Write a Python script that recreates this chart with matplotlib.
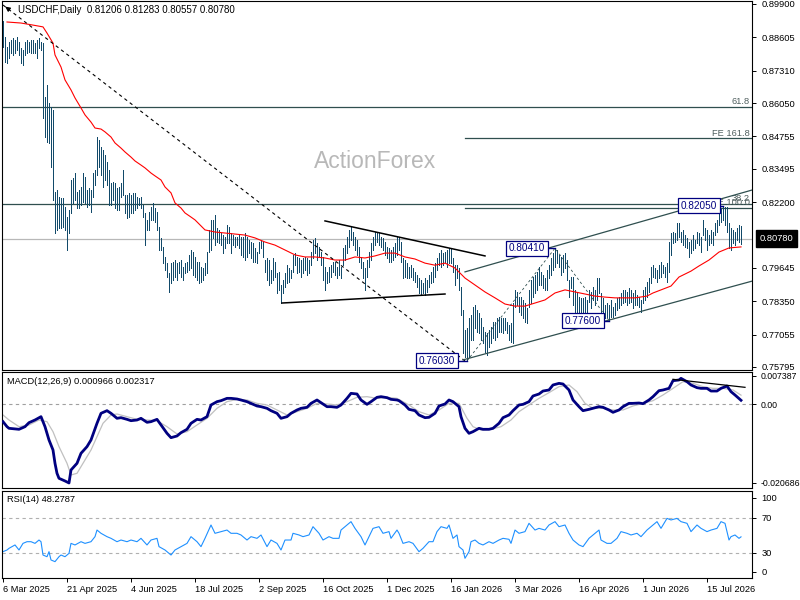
import matplotlib
matplotlib.use('Agg')
import matplotlib.pyplot as plt
import matplotlib.transforms as mtransforms
import numpy as np

plt.rcParams['font.family'] = ['Liberation Sans', 'DejaVu Sans']

# ---------------- data ----------------
symbol = 'USDCHF,Daily'
last_ohlc = [0.81206, 0.81283, 0.80557, 0.80780]

highs = [
 0.8924,0.8862,0.8823,0.8842,0.8850,0.8858,0.8850,0.8862,0.8842,0.8819,
 0.8811,0.8842,0.8850,0.8842,0.8850,0.8850,0.8838,0.8850,0.8858,0.8842,
 0.8838,0.8629,0.8675,0.8605,0.8590,0.8578,0.8259,0.8267,0.8240,0.8236,
 0.8236,0.8201,0.8162,0.8189,0.8306,0.8314,0.8333,0.8259,0.8267,0.8279,
 0.8333,0.8318,0.8267,0.8275,0.8267,0.8333,0.8345,0.8473,0.8461,0.8434,
 0.8423,0.8403,0.8376,0.8345,0.8294,0.8298,0.8294,0.8275,0.8279,0.8294,
 0.8345,0.8248,0.8248,0.8255,0.8248,0.8255,0.8255,0.8240,0.8236,0.8240,
 0.8209,0.8178,0.8151,0.8182,0.8201,0.8217,0.8197,0.8182,0.8123,0.8081,
 0.8046,0.8007,0.7983,0.7944,0.7983,0.7987,0.7995,0.7983,0.7987,0.7995,
 0.7968,0.7983,0.7987,0.8015,0.8034,0.8026,0.8007,0.7987,0.7987,0.7968,
 0.7964,0.7983,0.8026,0.8112,0.8151,0.8151,0.8170,0.8120,0.8112,0.8100,
 0.8092,0.8085,0.8131,0.8123,0.8100,0.8092,0.8085,0.8085,0.8092,0.8085,
 0.8085,0.8100,0.8085,0.8073,0.8065,0.8061,0.8042,0.8026,0.8065,0.8073,
 0.8065,0.7995,0.8003,0.7995,0.7956,0.8003,0.7987,0.7944,0.7948,0.7898,
 0.7917,0.7944,0.7975,0.7964,0.7956,0.8015,0.8022,0.8007,0.8003,0.7995,
 0.8003,0.8007,0.8003,0.7995,0.8026,0.8073,0.8081,0.8061,0.8046,0.8026,
 0.8007,0.7968,0.7948,0.7968,0.7975,0.7987,0.7987,0.7968,0.7995,0.7968,
 0.8042,0.8053,0.8085,0.8112,0.8123,0.8104,0.8085,0.8073,0.8046,0.8007,
 0.7987,0.7964,0.7995,0.8026,0.8061,0.8085,0.8104,0.8104,0.8100,0.8085,
 0.8081,0.8065,0.8046,0.8042,0.8034,0.8046,0.8061,0.8085,0.8085,0.8065,
 0.8003,0.7995,0.7983,0.7968,0.7975,0.7964,0.7948,0.7937,0.7925,0.7917,
 0.7906,0.7925,0.7917,0.7937,0.7948,0.7968,0.7983,0.8003,0.8022,0.8034,
 0.8022,0.8026,0.8034,0.8042,0.8042,0.8003,0.7975,0.7975,0.7964,0.7890,
 0.7801,0.7723,0.7731,0.7770,0.7781,0.7812,0.7820,0.7801,0.7789,0.7770,
 0.7735,0.7715,0.7711,0.7723,0.7735,0.7754,0.7754,0.7770,0.7774,0.7770,
 0.7770,0.7770,0.7754,0.7743,0.7750,0.7828,0.7879,0.7871,0.7851,0.7851,
 0.7840,0.7828,0.7809,0.7879,0.7917,0.7929,0.7937,0.7948,0.7968,0.7948,
 0.7937,0.7925,0.7956,0.7975,0.8003,0.8022,0.8041,0.8034,0.8015,0.8007,
 0.8015,0.8022,0.7995,0.7917,0.7929,0.7929,0.7879,0.7871,0.7851,0.7848,
 0.7848,0.7851,0.7840,0.7879,0.7871,0.7890,0.7879,0.7925,0.7925,0.7867,
 0.7848,0.7820,0.7828,0.7820,0.7840,0.7812,0.7828,0.7848,0.7851,0.7867,
 0.7879,0.7879,0.7871,0.7886,0.7879,0.7867,0.7879,0.7859,0.7851,0.7840,
 0.7879,0.7890,0.7910,0.7925,0.7968,0.7975,0.7964,0.7956,0.7975,0.7987,
 0.7975,0.7968,0.7983,0.8065,0.8100,0.8104,0.8100,0.8139,0.8139,0.8104,
 0.8112,0.8092,0.8081,0.8065,0.8073,0.8092,0.8073,0.8104,0.8100,0.8085,
 0.8151,0.8120,0.8112,0.8092,0.8112,0.8104,0.8139,0.8151,0.8182,0.8197,
 0.8205,0.8200,0.8200,0.8139,0.8120,0.8112,0.8104,0.8120,0.8131,0.81283]

lows = [
 0.8823,0.8764,0.8761,0.8780,0.8800,0.8792,0.8800,0.8811,0.8792,0.8761,
 0.8753,0.8792,0.8800,0.8803,0.8800,0.8800,0.8800,0.8780,0.8819,0.8811,
 0.8547,0.8473,0.8454,0.8450,0.8357,0.8228,0.8100,0.8112,0.8119,0.8119,
 0.8123,0.8112,0.8034,0.8100,0.8178,0.8217,0.8228,0.8197,0.8197,0.8209,
 0.8220,0.8217,0.8201,0.8209,0.8182,0.8240,0.8286,0.8325,0.8357,0.8325,
 0.8279,0.8306,0.8286,0.8209,0.8209,0.8228,0.8197,0.8189,0.8189,0.8240,
 0.8248,0.8178,0.8158,0.8162,0.8178,0.8178,0.8189,0.8197,0.8209,0.8197,
 0.8162,0.8053,0.8112,0.8112,0.8151,0.8151,0.8143,0.8112,0.8034,0.8034,
 0.7983,0.7956,0.7929,0.7871,0.7906,0.7917,0.7929,0.7917,0.7944,0.7929,
 0.7917,0.7944,0.7948,0.7956,0.7964,0.7937,0.7929,0.7917,0.7906,0.7910,
 0.7917,0.7937,0.7944,0.8026,0.8034,0.8081,0.8053,0.8065,0.8061,0.8053,
 0.8022,0.8042,0.8061,0.8061,0.8022,0.8053,0.8046,0.8053,0.8042,0.8015,
 0.8007,0.7995,0.8007,0.8022,0.8003,0.7987,0.7987,0.7983,0.8022,0.8042,
 0.8007,0.7948,0.7917,0.7898,0.7906,0.7917,0.7929,0.7867,0.7879,0.7828,
 0.7867,0.7890,0.7906,0.7910,0.7925,0.7948,0.7975,0.7944,0.7948,0.7929,
 0.7944,0.7956,0.7937,0.7944,0.7975,0.8003,0.8022,0.7995,0.8007,0.7975,
 0.7917,0.7879,0.7906,0.7910,0.7929,0.7948,0.7937,0.7925,0.7937,0.7925,
 0.7975,0.7995,0.8022,0.8046,0.8073,0.8053,0.8034,0.8015,0.7987,0.7964,
 0.7925,0.7879,0.7929,0.7968,0.7995,0.8034,0.8053,0.8065,0.8053,0.8046,
 0.8034,0.8015,0.8003,0.7987,0.7987,0.7995,0.8007,0.8015,0.8034,0.7987,
 0.7925,0.7929,0.7925,0.7925,0.7929,0.7917,0.7910,0.7890,0.7867,0.7859,
 0.7867,0.7859,0.7871,0.7890,0.7906,0.7910,0.7929,0.7956,0.7975,0.7968,
 0.7975,0.7987,0.7968,0.7983,0.7983,0.7948,0.7898,0.7925,0.7879,0.7781,
 0.7634,0.7618,0.7603,0.7618,0.7684,0.7684,0.7731,0.7715,0.7711,0.7684,
 0.7673,0.7638,0.7626,0.7657,0.7673,0.7692,0.7684,0.7696,0.7715,0.7715,
 0.7711,0.7723,0.7711,0.7684,0.7677,0.7673,0.7812,0.7820,0.7793,0.7781,
 0.7770,0.7754,0.7750,0.7812,0.7828,0.7851,0.7867,0.7879,0.7898,0.7898,
 0.7886,0.7879,0.7879,0.7925,0.7937,0.7956,0.7968,0.7983,0.7968,0.7937,
 0.7948,0.7964,0.7917,0.7851,0.7886,0.7820,0.7781,0.7770,0.7781,0.7774,
 0.7789,0.7774,0.7781,0.7832,0.7809,0.7840,0.7820,0.7840,0.7867,0.7793,
 0.7789,0.7770,0.7774,0.7760,0.7774,0.7774,0.7781,0.7801,0.7809,0.7820,
 0.7828,0.7832,0.7820,0.7828,0.7832,0.7809,0.7820,0.7820,0.7812,0.7793,
 0.7828,0.7840,0.7851,0.7871,0.7906,0.7929,0.7925,0.7910,0.7925,0.7929,
 0.7944,0.7929,0.7910,0.7948,0.8015,0.8061,0.8065,0.8073,0.8085,0.8065,
 0.8053,0.8046,0.8042,0.8007,0.8022,0.8034,0.8042,0.8061,0.8053,0.8026,
 0.8092,0.8073,0.8034,0.8053,0.8061,0.8053,0.8092,0.8104,0.8131,0.8143,
 0.8151,0.8131,0.8104,0.8042,0.8034,0.8061,0.8053,0.8073,0.8065,0.80557]

# moving average (red)
ma_bar = [2,9,15,20,22,25,26,29,31,34,36,39,41,44,46,49,51,54,56,59,61,64,66,69,71,74,76,79,81,84,
          86,89,91,94,96,101,106,111,116,121,126,131,136,141,146,151,156,161,166,171,176,181,186,191,
          196,201,206,211,216,221,226,231,236,241,246,251,256,261,266,271,276,281,286,291,296,301,306,
          311,316,322,325,329,334,338,344,348,353,358,363,369]
ma_val = [0.8920,0.8916,0.8908,0.8901,0.8877,0.8838,0.8792,0.8745,0.8695,0.8656,0.8625,0.8586,0.8559,
          0.8531,0.8508,0.8504,0.8493,0.8473,0.8450,0.8430,0.8415,0.8395,0.8380,0.8364,0.8353,0.8333,
          0.8322,0.8306,0.8279,0.8256,0.8217,0.8197,0.8178,0.8162,0.8151,0.8112,0.8104,0.8100,0.8096,
          0.8092,0.8081,0.8065,0.8053,0.8034,0.8015,0.8007,0.8007,0.8003,0.7995,0.7995,0.8007,0.8003,
          0.8011,0.8022,0.8022,0.8007,0.7999,0.7983,0.7975,0.7983,0.7964,0.7925,0.7898,0.7871,0.7848,
          0.7824,0.7816,0.7816,0.7828,0.7840,0.7867,0.7879,0.7871,0.7863,0.7855,0.7851,0.7848,0.7848,
          0.7848,0.7855,0.7867,0.7879,0.7894,0.7929,0.7952,0.7972,0.7995,0.8026,0.8042,0.8046]

macd_bar = [0,2,3,8,11,13,16,19,21,23,25,26,27,28,31,33,34,37,39,42,44,47,49,52,54,57,59,62,64,67,69,
            72,74,77,79,82,84,87,89,92,94,97,99,102,104,107,109,112,114,117,119,122,124,127,129,132,134,
            137,139,142,144,147,149,152,154,157,159,162,164,167,169,172,174,177,179,182,184,187,189,192,
            194,197,198,201,203,206,208,211,213,216,218,221,223,225,228,229,231,233,235,238,240,243,245,
            248,250,253,255,258,260,263,265,268,270,273,275,278,280,283,285,288,290,293,295,298,300,303,
            305,308,310,313,315,318,320,323,325,328,330,333,335,338,339,342,344,347,349,352,354,357,359,
            362,364,366,369]
macd_val = [-0.00463,-0.00594,-0.00637,-0.00663,-0.00594,-0.00489,-0.00419,-0.00332,-0.00594,-0.00943,
            -0.01205,-0.01554,-0.01816,-0.01947,-0.02017,-0.02069,-0.01729,-0.01554,-0.01292,-0.01117,
            -0.00943,-0.00506,-0.00244,-0.00175,-0.00244,-0.00375,-0.00358,-0.00402,-0.00437,-0.00419,
            -0.00375,-0.00480,-0.00463,-0.00402,-0.00550,-0.00768,-0.00882,-0.00838,-0.00751,-0.00663,
            -0.00506,-0.00402,-0.00419,-0.00332,-0.00026,0.00061,0.00087,0.00148,0.00148,0.00131,
            0.00105,0.00061,0.00017,-0.00052,-0.00070,-0.00113,-0.00175,-0.00244,-0.00375,-0.00332,
            -0.00244,-0.00157,-0.00113,-0.00087,0.00017,0.00105,0.00035,-0.00070,-0.00070,-0.00087,
            -0.00026,0.00148,0.00279,0.00262,0.00105,-0.00009,0.00061,0.00175,0.00192,0.00166,
            0.00122,0.00105,0.00087,-0.00026,-0.00140,-0.00175,-0.00288,-0.00358,-0.00349,-0.00244,
            -0.00052,0.00000,0.00105,0.00061,-0.00070,-0.00332,-0.00637,-0.00768,-0.00725,-0.00637,
            -0.00663,-0.00663,-0.00637,-0.00506,-0.00358,-0.00288,-0.00175,-0.00026,-0.00009,0.00061,
            0.00210,0.00262,0.00340,0.00367,0.00498,0.00541,0.00524,0.00367,0.00105,-0.00070,
            -0.00175,-0.00140,-0.00113,-0.00070,-0.00087,-0.00157,-0.00218,-0.00157,-0.00070,0.00017,
            0.00017,0.00026,0.00009,0.00105,0.00192,0.00349,0.00367,0.00410,0.00611,0.00629,
            0.00672,0.00585,0.00498,0.00428,0.00410,0.00410,0.00340,0.00340,0.00410,0.00471,
            0.00323,0.00236,0.00097]

sig_bar = [0,3,8,13,18,22,25,28,32,34,37,40,44,47,50,54,57,62,67,72,77,82,87,92,97,102,107,112,117,
           122,127,132,137,142,147,152,157,162,167,172,177,182,187,192,197,203,208,213,218,223,228,232,
           235,239,244,249,254,258,263,268,273,278,283,287,291,295,300,305,310,315,320,325,330,335,340,
           345,350,355,360,365,369]
sig_val = [-0.00288,-0.00419,-0.00594,-0.00550,-0.00419,-0.00463,-0.00725,-0.01117,-0.01554,-0.01859,
           -0.01816,-0.01554,-0.01205,-0.00856,-0.00506,-0.00288,-0.00262,-0.00332,-0.00402,-0.00419,
           -0.00437,-0.00594,-0.00786,-0.00725,-0.00550,-0.00375,-0.00113,0.00061,0.00122,0.00105,
           0.00017,-0.00026,-0.00157,-0.00288,-0.00201,-0.00113,0.00017,0.00000,-0.00026,0.00061,
           0.00175,0.00192,0.00148,0.00175,0.00148,-0.00026,-0.00201,-0.00288,-0.00157,0.00017,
           0.00017,-0.00375,-0.00594,-0.00681,-0.00663,-0.00594,-0.00419,-0.00201,-0.00026,0.00148,
           0.00297,0.00454,0.00498,0.00323,0.00017,-0.00113,-0.00113,-0.00157,-0.00157,-0.00052,
           0.00017,0.00087,0.00236,0.00410,0.00585,0.00541,0.00454,0.00410,0.00410,0.00367,0.00232]

rsi_bar = [0,2,3,6,8,10,12,14,16,18,19,20,22,23,24,26,28,29,31,33,34,36,39,41,44,46,47,49,52,54,57,59,
           62,64,67,69,72,74,77,78,81,84,86,89,92,94,97,99,101,104,106,109,112,114,117,119,122,124,127,
           129,132,134,137,139,141,144,145,148,150,153,155,158,160,163,165,168,169,172,174,176,179,181,
           183,185,188,190,193,194,197,198,200,203,205,208,210,213,215,217,219,222,223,225,227,228,230,
           231,233,234,236,238,240,243,245,248,250,253,254,256,258,261,263,266,268,271,273,276,278,281,
           283,285,288,290,293,295,298,299,302,304,307,309,312,314,317,319,322,324,327,329,332,334,337,
           339,342,344,347,349,352,354,357,359,361,363,364,366,368,369]
rsi_val = [31.5,33.4,35.3,39.1,33.4,40.9,42.8,42.8,40.9,44.7,42.8,27.7,25.8,31.5,22.1,20.2,25.8,27.7,
           25.8,29.6,40.9,39.1,42.8,40.9,42.8,48.5,56.0,52.3,48.5,46.6,42.8,44.7,42.8,44.7,42.8,46.6,
           39.1,44.7,46.6,37.2,33.4,27.7,33.4,37.2,40.9,48.5,42.8,37.2,46.6,61.7,52.3,54.2,56.0,52.3,
           52.3,50.4,44.7,48.5,46.6,50.4,37.2,44.7,40.9,33.4,44.7,44.7,52.3,50.4,48.5,50.4,59.8,52.3,
           44.7,48.5,46.6,46.6,56.0,61.7,65.5,57.9,48.5,39.1,48.5,57.9,59.8,52.3,54.2,46.6,56.0,52.3,
           40.9,42.8,40.9,31.5,35.3,42.8,42.8,54.2,59.8,57.9,61.7,46.6,50.4,37.2,33.4,24.0,31.5,42.8,
           44.7,40.9,39.1,42.8,40.9,44.7,46.6,45.5,40.9,56.0,52.3,54.2,63.6,56.0,57.9,56.0,61.7,65.5,
           59.8,61.7,52.3,44.7,39.1,37.2,46.6,50.4,56.0,44.7,40.9,40.9,46.6,54.2,52.3,50.4,52.3,48.5,
           56.0,59.8,65.5,57.9,69.2,67.4,69.2,65.5,63.6,54.2,61.7,57.9,54.2,56.0,57.9,65.5,63.6,44.7,
           48.5,50.4,46.6,48.28]
macd_last = [0.000966, 0.002317]
rsi_last = 48.2787

date_ticks = [0, 32, 64, 96, 128, 160, 192, 224, 256, 288, 320, 352]
date_labels = ['6 Mar 2025', '21 Apr 2025', '4 Jun 2025', '18 Jul 2025', '2 Sep 2025',
               '16 Oct 2025', '1 Dec 2025', '16 Jan 2026', '3 Mar 2026', '16 Apr 2026',
               '1 Jun 2026', '15 Jul 2026']
price_ticks = [0.89900, 0.88605, 0.87310, 0.86050, 0.84755, 0.83495, 0.82200,
               0.79645, 0.78350, 0.77055, 0.75795]

fib_levels = [0.8590, 0.8213]
fib_labels = ['61.8', '38.2']
fe_levels = [0.8469, 0.8198]
fe_labels = ['FE 161.8', 'FE 100.0']
fe_start = 231

swing_bar = [232, 276, 303, 360]
swing_val = [0.76030, 0.80410, 0.77600, 0.82050]

main_trend = [(0, 0.8986), (231, 0.7603)]
triangle_up = [(161, 0.8147), (241, 0.8011)]
triangle_dn = [(139.5, 0.7828), (221, 0.7863)]
channel_up = [(231, 0.7949), (374.5, 0.8267)]
channel_dn = [(230, 0.7607), (374.5, 0.7913)]
macd_trend = [(335, 0.00647), (371, 0.00437)]

# ---------------- figure ----------------
W, H = 800, 600
fig = plt.figure(figsize=(8, 6), dpi=100)
fig.patch.set_facecolor('white')

def ax_rect(top, bottom, left=2, right=752):
    return [left / W, 1 - bottom / H, (right - left) / W, (bottom - top) / H]

ax = fig.add_axes(ax_rect(1, 370))
axm = fig.add_axes(ax_rect(372, 488))
axr = fig.add_axes(ax_rect(491, 578))

FS = 6.7
BAR_C = '#124a6a'
SLATE = '#2f4f4f'
x = np.arange(len(highs))

for a in (ax, axm, axr):
    a.set_xlim(-0.5, 374.5)
    for s in a.spines.values():
        s.set_linewidth(0.8)
        s.set_color('black')
    a.yaxis.tick_right()
    a.tick_params(axis='y', direction='out', length=3, width=0.7, pad=4, labelsize=FS)
    a.set_xticks([])

# main panel
ax.set_ylim(0.75677, 0.90016)
ax.set_yticks(price_ticks)
ax.set_yticklabels(['%.5f' % v for v in price_ticks])

ax.axhline(last_ohlc[3], color='#b8b8b8', lw=0.9, zorder=1)
for lv in fib_levels:
    ax.axhline(lv, color=SLATE, lw=0.9, zorder=1)
for lv in fe_levels:
    ax.plot([fe_start, 374.5], [lv, lv], color=SLATE, lw=0.9, zorder=1)
for lv, lb in zip(fib_levels, fib_labels):
    ax.text(373.5, lv + 0.0004, lb, ha='right', va='bottom', fontsize=FS, color='#4f5f5f', zorder=2)
for lv, lb in zip(fe_levels, fe_labels):
    ax.text(373.5, lv + 0.0002, lb, ha='right', va='bottom', fontsize=FS, color='#4f5f5f', zorder=2)

ax.vlines(x, lows, highs, color=BAR_C, lw=0.72, antialiased=False, zorder=3)
ax.plot(ma_bar, ma_val, color='red', lw=0.8, zorder=4)

ax.plot([p[0] for p in main_trend], [p[1] for p in main_trend], color='black', lw=0.8,
        ls=(0, (3, 3)), zorder=5)
ax.annotate('', xy=main_trend[0], xytext=(3.5, 0.8966),
            arrowprops=dict(arrowstyle='-|>', color='black', lw=0.8, mutation_scale=7), zorder=5)
ax.plot([p[0] for p in triangle_up], [p[1] for p in triangle_up], color='black', lw=1.1, zorder=5)
ax.plot([p[0] for p in triangle_dn], [p[1] for p in triangle_dn], color='black', lw=1.1, zorder=5)
ax.plot([p[0] for p in channel_up], [p[1] for p in channel_up], color=SLATE, lw=0.9, zorder=5)
ax.plot([p[0] for p in channel_dn], [p[1] for p in channel_dn], color=SLATE, lw=0.9, zorder=5)
ax.plot(swing_bar[:3], swing_val[:3], color=SLATE, lw=0.6, ls=(0, (3, 3)), zorder=5)

box_gap = [6, 5, 4, 3]
for b, v, g in zip(swing_bar, swing_val, box_gap):
    ax.plot([b - g, b], [v, v], color='#000080', lw=1.0, zorder=6)
    ax.text(b - g, v, '%.5f' % v, ha='right', va='center', fontsize=FS + 0.5, color='#000080',
            zorder=7, bbox=dict(boxstyle='square,pad=0.25', fc='white', ec='#000080', lw=0.9))

ax.text(16 / 750, 1 - 9 / 369, '%s  %s' % (symbol, ' '.join('%.5f' % v for v in last_ohlc)),
        transform=ax.transAxes, ha='left', va='center', fontsize=FS + 0.3, color='black')
ax.text(0.497, 0.564, 'ActionForex', transform=ax.transAxes, ha='center', va='center',
        fontsize=16.5, color='#b8b8b8', zorder=0)

trans = mtransforms.blended_transform_factory(fig.transFigure, ax.transData)
fig.text(760 / W, last_ohlc[3], '%.5f' % last_ohlc[3], transform=trans, ha='left', va='center',
         fontsize=FS, color='white',
         bbox=dict(boxstyle='square,pad=0.4', fc='black', ec='black'))

# MACD panel
axm.set_ylim(-0.022008, 0.008384)
axm.axhline(0, color='#a0a0a0', lw=0.8, ls=(0, (3, 3)), zorder=1)
axm.plot(sig_bar, sig_val, color='#c0c0c0', lw=0.9, zorder=2)
axm.plot(macd_bar, macd_val, color='#000080', lw=2.0, zorder=3)
axm.plot([p[0] for p in macd_trend], [p[1] for p in macd_trend], color='black', lw=0.9, zorder=4)
axm.set_yticks([0.007387, 0.0, -0.020686])
axm.set_yticklabels(['0.007387', '0.00', '-0.020686'])
axm.tick_params(axis='y', labelsize=6.3, pad=3)
axm.text(5 / 750, 1 - 9 / 116, 'MACD(12,26,9) %.6f %.6f' % tuple(macd_last), transform=axm.transAxes,
         ha='left', va='center', fontsize=FS, color='black')

# RSI panel
axr.set_ylim(1.69, 100.2)
axr.axhline(70, color='#b0b0b0', lw=0.8, ls=(0, (3, 3)), zorder=1)
axr.axhline(30, color='#b0b0b0', lw=0.8, ls=(0, (3, 3)), zorder=1)
axr.plot(rsi_bar, rsi_val, color='#1e90ff', lw=0.8, zorder=2)
axr.set_yticks([92.3, 70, 30, 8.5])
axr.set_yticklabels(['100', '70', '30', '0'])
axr.text(5 / 750, 1 - 9 / 87, 'RSI(14) %.4f' % rsi_last, transform=axr.transAxes,
         ha='left', va='center', fontsize=FS, color='black')
axr.set_xticks(date_ticks)
axr.set_xticklabels(date_labels, ha='left', fontsize=FS)
axr.tick_params(axis='x', direction='out', length=3, width=0.7, pad=2)

fig.savefig('out.png', dpi=100, facecolor='white')
